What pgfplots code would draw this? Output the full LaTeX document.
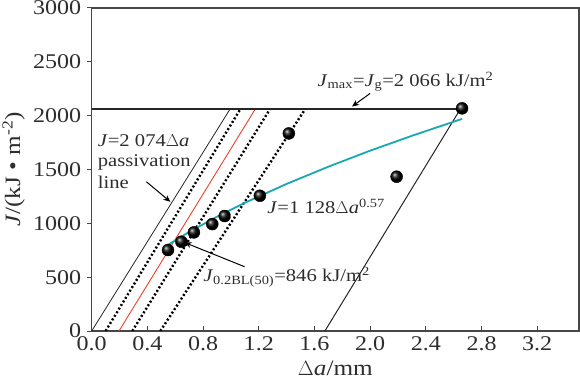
\documentclass[border=0pt]{standalone}
\usepackage{pgfplots}
\pgfplotsset{compat=1.18}
\usepackage{fontspec}
\setmainfont{Liberation Serif}[FakeStretch=1.15]
\usetikzlibrary{arrows.meta,shadings}
\definecolor{txt}{RGB}{45,45,45}
\definecolor{axc}{RGB}{70,70,70}
\definecolor{redl}{RGB}{232,66,44}
\definecolor{cyanl}{RGB}{24,168,178}
\begin{document}
\begin{tikzpicture}
\begin{axis}[
  scale only axis, width=487.3bp, height=323bp,
  xmin=0, xmax=3.5, ymin=0, ymax=3000,
  xtick={0,0.4,0.8,1.2,1.6,2.0,2.4,2.8,3.2},
  ytick={0,500,1000,1500,2000,2500,3000},
  xtick pos=bottom, ytick pos=left,
  xtick align=inside, ytick align=outside,
  major tick length=5bp,
  tick style={axc, line width=1bp},
  axis line style={axc, line width=1.3bp},
  /pgf/number format/assume math mode=true,
  /pgf/number format/1000 sep={},
  ticklabel style={font=\fontsize{21}{24}\selectfont, text=txt},
  xticklabel style={yshift=-2bp, /pgf/number format/.cd, fixed, fixed zerofill, precision=1},
  yticklabel style={xshift=-2bp},
  every axis x label/.style={at={(axis description cs:0.5,-0.1146)}, anchor=center, font=\fontsize{22}{26}\selectfont, text=txt},
  every axis y label/.style={at={(axis description cs:-0.160,0.5)}, rotate=90, anchor=center, font=\fontsize{22}{26}\selectfont, text=txt},
  xlabel={$\Delta$\textit{a}/mm},
  ylabel={\textit{J}/(kJ • m\textsuperscript{-2})},
]
% passivation line
\addplot[black!85, line width=0.8bp] coordinates {(0,0) (0.996,2066)};
% offset lines
\addplot[black, line width=2.4bp, dash pattern=on 2bp off 2.2bp] coordinates {(0.100,0) (1.070,2066)};
\addplot[redl, line width=0.9bp] coordinates {(0.196,0) (1.177,2066)};
\addplot[black, line width=2.4bp, dash pattern=on 2bp off 2.2bp] coordinates {(0.292,0) (1.283,2066)};
\addplot[black, line width=2.4bp, dash pattern=on 2bp off 2.2bp] coordinates {(0.493,0) (1.536,2066)};
\addplot[black!85, line width=1bp] coordinates {(1.675,0) (2.650,2066)};
% Jmax horizontal line
\addplot[black!85, line width=2bp] coordinates {(0,2066) (2.66,2066)};
% power-law fit
\addplot[cyanl, line width=1.8bp] coordinates {(0.55,802) (0.7,920) (0.9,1062) (1.1,1191) (1.4,1366) (1.7,1526) (2.0,1675) (2.3,1813) (2.66,1970)};
% data points
\addplot[only marks, mark=ball, mark size=6bp, mark options={ball color=black}] coordinates {
(0.548,752) (0.644,829) (0.734,916) (0.866,993) (0.955,1068) (1.208,1256) (1.416,1835) (2.19,1433) (2.66,2068)};
% annotations
\node[anchor=west, inner sep=0, font=\fontsize{18}{20}\selectfont, text=txt] at (axis cs:0.043,1764) {\textit{J}=2 074$\Delta$\textit{a}};
\node[anchor=west, inner sep=0, font=\fontsize{18}{20}\selectfont, text=txt] at (axis cs:0.043,1569) {passivation};
\node[anchor=west, inner sep=0, font=\fontsize{18}{20}\selectfont, text=txt] at (axis cs:0.043,1383) {line};
\node[anchor=center, inner sep=0, font=\fontsize{18}{20}\selectfont, text=txt] at (axis cs:2.254,2315) {\textit{J}\textsubscript{max}=\textit{J}\textsubscript{g}=2 066 kJ/m\textsuperscript{2}};
\node[anchor=west, inner sep=0, font=\fontsize{18}{20}\selectfont, text=txt] at (axis cs:1.261,1154) {\textit{J}=1 128$\Delta$\textit{a}\textsuperscript{0.57}};
\node[anchor=west, inner sep=0, font=\fontsize{18}{20}\selectfont, text=txt] at (axis cs:0.80,504) {\textit{J}\textsubscript{0.2BL(50)}=846 kJ/m\textsuperscript{2}};
\draw[-{Stealth[length=7bp,width=6bp]}, black, line width=1bp] (axis cs:0.393,1386) -- (axis cs:0.565,1200);
\draw[-{Stealth[length=7bp,width=6bp]}, black, line width=1bp] (axis cs:2.0,2207) -- (axis cs:1.87,2085);
\draw[-{Stealth[length=7bp,width=6bp]}, black, line width=1bp] (axis cs:1.098,597) -- (axis cs:0.667,822);
\end{axis}
\pgfresetboundingbox
\path ([xshift=-91.7bp,yshift=-50bp]current axis.south west) rectangle ([xshift=1bp,yshift=8bp]current axis.north east);
\end{tikzpicture}
\end{document}
